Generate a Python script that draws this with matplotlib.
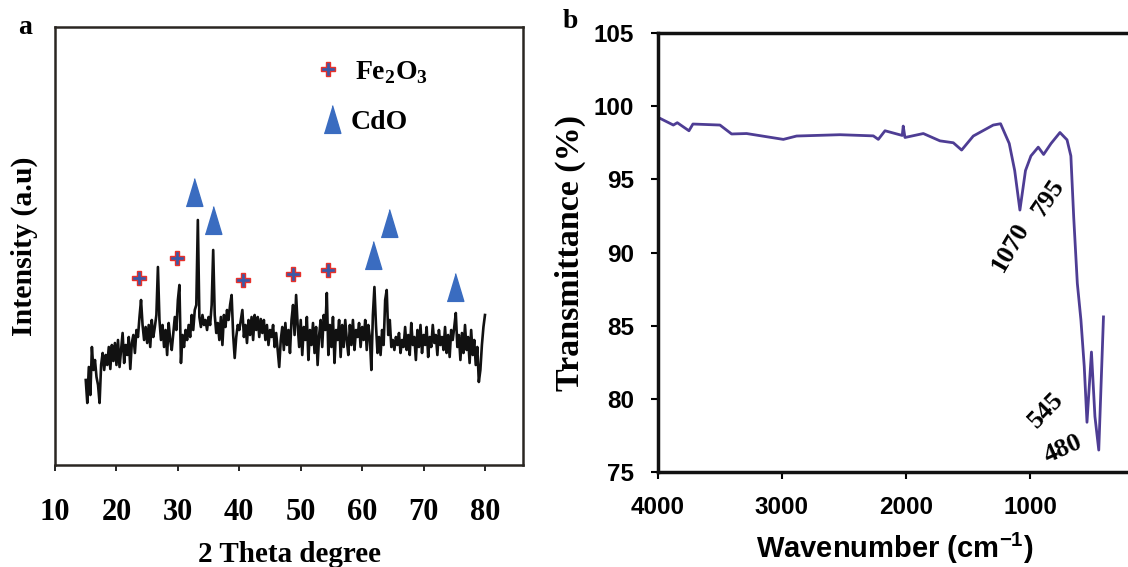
import numpy as np
import matplotlib
matplotlib.use("Agg")
from matplotlib import pyplot as plt

plt.rcParams["mathtext.fontset"] = "custom"
plt.rcParams["mathtext.bf"] = "Liberation Serif:bold"
plt.rcParams["mathtext.sf"] = "Liberation Sans:bold"

# XRD pattern, 2theta grid with 0.25 deg steps from 15 to 80
two_theta = np.arange(15.0, 80.01, 0.25)
intensity = [
    85, 62, 98, 70, 118, 95, 105, 88, 80, 62, 100, 112, 95, 110, 100, 118, 96, 120, 104, 122,
    100, 125, 98, 115, 132, 102, 120, 110, 128, 96, 122, 130, 112, 135, 128, 148, 165, 140, 125, 138,
    122, 140, 118, 145, 128, 138, 150, 198, 145, 125, 140, 118, 135, 110, 142, 125, 115, 132, 148, 135,
    165, 180, 102, 130, 118, 135, 125, 140, 128, 150, 135, 155, 160, 245, 148, 138, 150, 140, 145, 135,
    148, 140, 160, 215, 150, 132, 142, 125, 148, 120, 150, 138, 155, 145, 160, 170, 130, 107, 128, 140,
    135, 145, 155, 128, 140, 122, 145, 130, 148, 125, 150, 135, 148, 128, 146, 132, 145, 125, 140, 120,
    135, 128, 140, 118, 132, 115, 98, 125, 138, 115, 142, 120, 135, 112, 145, 160, 130, 170, 140, 118,
    145, 110, 138, 125, 148, 105, 135, 120, 142, 112, 138, 100, 130, 145, 118, 150, 135, 172, 110, 140,
    118, 148, 102, 135, 125, 145, 108, 140, 118, 145, 125, 110, 140, 120, 145, 115, 135, 128, 142, 118,
    138, 125, 145, 115, 140, 128, 95, 150, 178, 140, 112, 128, 110, 135, 120, 165, 175, 130, 145, 118,
    125, 115, 128, 120, 132, 112, 125, 118, 138, 115, 130, 110, 142, 120, 128, 105, 135, 118, 140, 112,
    130, 120, 138, 108, 128, 118, 140, 122, 130, 110, 135, 120, 128, 115, 138, 112, 130, 108, 135, 125,
    138, 152, 118, 130, 105, 132, 112, 140, 115, 128, 102, 135, 110, 125, 100, 118, 83, 95, 120, 138,
    150,
]

# phase markers (2theta, height)
fe2o3_pos = [23.7, 29.9, 40.6, 48.8, 54.4]
fe2o3_h = [187, 207, 185, 191, 195]
cdo_pos = [32.6, 35.7, 61.8, 64.4, 75.2]
cdo_h = [273, 245, 210, 242, 178]

# FTIR spectrum
wavenumber = [4000, 3984, 3876, 3844, 3750, 3718, 3500, 3406, 3285, 2989, 2882, 2532,
              2263, 2223, 2169, 2030, 2022, 2008, 1860, 1726, 1618, 1551, 1457, 1296,
              1237, 1167, 1123, 1081, 1036, 992, 933, 890, 830, 758, 701, 670, 647,
              618, 589, 562, 540, 504, 476, 445, 407]
transmittance = [99.2, 99.17, 98.71, 98.87, 98.32, 98.78, 98.71, 98.1, 98.13, 97.73, 97.96, 98.05,
                 97.97, 97.73, 98.32, 98.0, 98.64, 97.86, 98.13, 97.63, 97.5, 97.0, 97.96, 98.71,
                 98.8, 97.45, 95.6, 92.9, 95.6, 96.6, 97.2, 96.7, 97.45, 98.2, 97.7, 96.6, 92.4,
                 87.9, 85.4, 82.2, 78.4, 83.2, 78.8, 76.5, 85.6]
peak_labels = ["1070", "795", "545", "480"]
peak_label_xy = [(1161, 90.4), (855, 93.7), (868, 79.2), (734, 76.6)]
peak_label_rot = [60, 56, 46, 24]

serif = "Liberation Serif"
sans = "Liberation Sans"

fig = plt.figure(figsize=(11.28, 5.67), dpi=100)

# ---- panel a: XRD ----
ax1 = fig.add_axes([0.0488, 0.1799, 0.4149, 0.7725])
ax1.plot(two_theta, intensity, color="#111111", lw=1.9)

plus_kw = dict(marker="P", ms=10, mfc="#3a5aa8", mec="#e8302a", mew=1.0, ls="none")
tri = [(-0.3, -0.5), (0.3, -0.5), (0.0, 0.5)]
tri_kw = dict(marker=tri, ms=20, mfc="#3a6cc0", mec="#3a6cc0", ls="none")
ax1.plot(fe2o3_pos, fe2o3_h, **plus_kw)
ax1.plot(cdo_pos, cdo_h, **tri_kw)

# legend entries
ax1.plot([54.4], [396], **plus_kw)
ax1.plot([55.1], [346], **tri_kw)
ax1.text(58.8, 392, r"Fe$_\mathbf{2}$O$_\mathbf{3}$", fontsize=20, fontweight="bold",
         family=serif, va="center", ha="left")
ax1.text(58.2, 342, "CdO", fontsize=20, fontweight="bold", family=serif,
         va="center", ha="left")

ax1.set_xlim(10, 86.2)
ax1.set_ylim(0, 438)
ax1.set_xticks(range(10, 81, 10))
ax1.set_yticks([])
ax1.tick_params(axis="x", direction="out", length=4, width=1.2, pad=20)
for lab in ax1.get_xticklabels():
    lab.set_fontfamily(serif)
    lab.set_fontweight("bold")
    lab.set_fontsize(22)
for sp in ax1.spines.values():
    sp.set_linewidth(1.8)
    sp.set_color("#2a2622")
ax1.set_ylabel("Intensity (a.u)", fontsize=21.5, fontweight="bold", family=serif, labelpad=12)
fig.text(289 / 1128, 1 - 562 / 567, "2 Theta degree", fontsize=21, fontweight="bold",
         family=serif, ha="center", va="baseline")

# ---- panel b: FTIR ----
ax2 = fig.add_axes([0.5833, 0.1675, 0.4397, 0.7743])
ax2.plot(wavenumber, transmittance, color="#4e3d94", lw=2.0)
for txt, (xx, yy), rot in zip(peak_labels, peak_label_xy, peak_label_rot):
    ax2.text(xx, yy, txt, rotation=rot, fontsize=19, fontweight="bold", family=serif,
             ha="center", va="center", rotation_mode="anchor")

ax2.set_xlim(4000, 0)
ax2.set_ylim(75, 105)
ax2.set_xticks([4000, 3000, 2000, 1000])
ax2.set_yticks(range(75, 106, 5))
ax2.tick_params(direction="out", length=5, width=1.5, labelsize=17.5)
ax2.tick_params(axis="x", pad=12)
ax2.tick_params(axis="y", pad=12)
for lab in ax2.get_xticklabels() + ax2.get_yticklabels():
    lab.set_fontfamily(sans)
    lab.set_fontweight("bold")
for sp in ax2.spines.values():
    sp.set_linewidth(2.5)
    sp.set_color("#111111")
ax2.set_ylabel("Transmittance (%)", fontsize=24.5, fontweight="bold", family=serif, labelpad=6)
fig.text(895 / 1128, 1 - 558 / 567, r"Wavenumber (cm$^{\mathsf{-1}}$)", fontsize=21,
         fontweight="bold", family=sans, ha="center", va="baseline")

fig.text(0.016, 0.952, "a", fontsize=20, fontweight="bold", family=serif, ha="left", va="center")
fig.text(0.499, 0.962, "b", fontsize=20, fontweight="bold", family=serif, ha="left", va="center")

fig.savefig("out.png", dpi=100)
